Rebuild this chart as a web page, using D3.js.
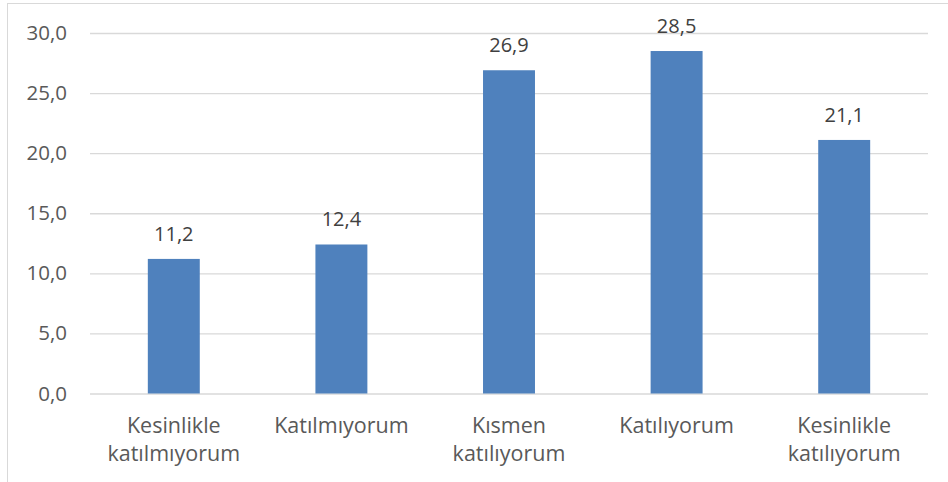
<!DOCTYPE html>
<html><head><meta charset="utf-8">
<script src="https://cdn.jsdelivr.net/npm/d3@7"></script>
<style>html,body{margin:0;padding:0;background:#fff;overflow:hidden}</style>
</head><body>
<svg id="c" width="948" height="482"></svg>
<script>
const categories = [["Kesinlikle","katılmıyorum"],["Katılmıyorum"],["Kısmen","katılıyorum"],["Katılıyorum"],["Kesinlikle","katılıyorum"]];
const values = [11.2, 12.4, 26.9, 28.5, 21.1];
const yTicks = [0,5,10,15,20,25,30];

(function(){
const svg = d3.select("#c");
const font = "'Open Sans', sans-serif";
const pL = 90, pR = 928, pT = 33, pB = 393.5;

svg.append("rect").attr("x",7.5).attr("y",3.5).attr("width",1000).attr("height",1000)
  .attr("fill","none").attr("stroke","#D9D9D9").attr("stroke-width",1);

const y = d3.scaleLinear().domain([0,30]).range([pB, pT]);
const x = d3.scaleBand().domain(d3.range(values.length)).range([pL, pR]).paddingInner(0).paddingOuter(0);
const bw = x.bandwidth()*0.31;
const fmt = v => d3.format(".1f")(v).replace(".", ",");

const yAxis = d3.axisLeft(y).tickValues(yTicks).tickSize(-(pR-pL)).tickFormat(fmt).tickPadding(23);
const g = svg.append("g").attr("transform",`translate(${pL},0)`).call(yAxis);
g.select(".domain").remove();
g.selectAll(".tick line").attr("stroke","#D9D9D9").attr("stroke-width",1.3);
g.selectAll(".tick text").attr("fill","#595959").style("font-family",font).style("font-size","20.5px");

svg.selectAll("rect.bar").data(values).enter().append("rect").attr("class","bar")
  .attr("x",(d,i)=>x(i)+x.bandwidth()/2-bw/2).attr("width",bw)
  .attr("y",d=>y(d)).attr("height",d=>y(0)-y(d)).attr("fill","#4F81BD");

svg.selectAll("text.val").data(values).enter().append("text").attr("class","val")
  .attr("x",(d,i)=>x(i)+x.bandwidth()/2).attr("y",d=>y(d)-18)
  .attr("text-anchor","middle").attr("fill","#404040")
  .style("font-family",font).style("font-size","20px").text(fmt);

const cl = svg.selectAll("text.cat").data(categories).enter().append("text").attr("class","cat")
  .attr("text-anchor","middle").attr("fill","#595959")
  .style("font-family",font).style("font-size","21.5px");
cl.each(function(lines,i){
  const t = d3.select(this);
  lines.forEach((l,j)=>{
    t.append("tspan").attr("x",x(i)+x.bandwidth()/2).attr("y",433+j*28).text(l);
  });
});
})();
</script>
</body></html>
